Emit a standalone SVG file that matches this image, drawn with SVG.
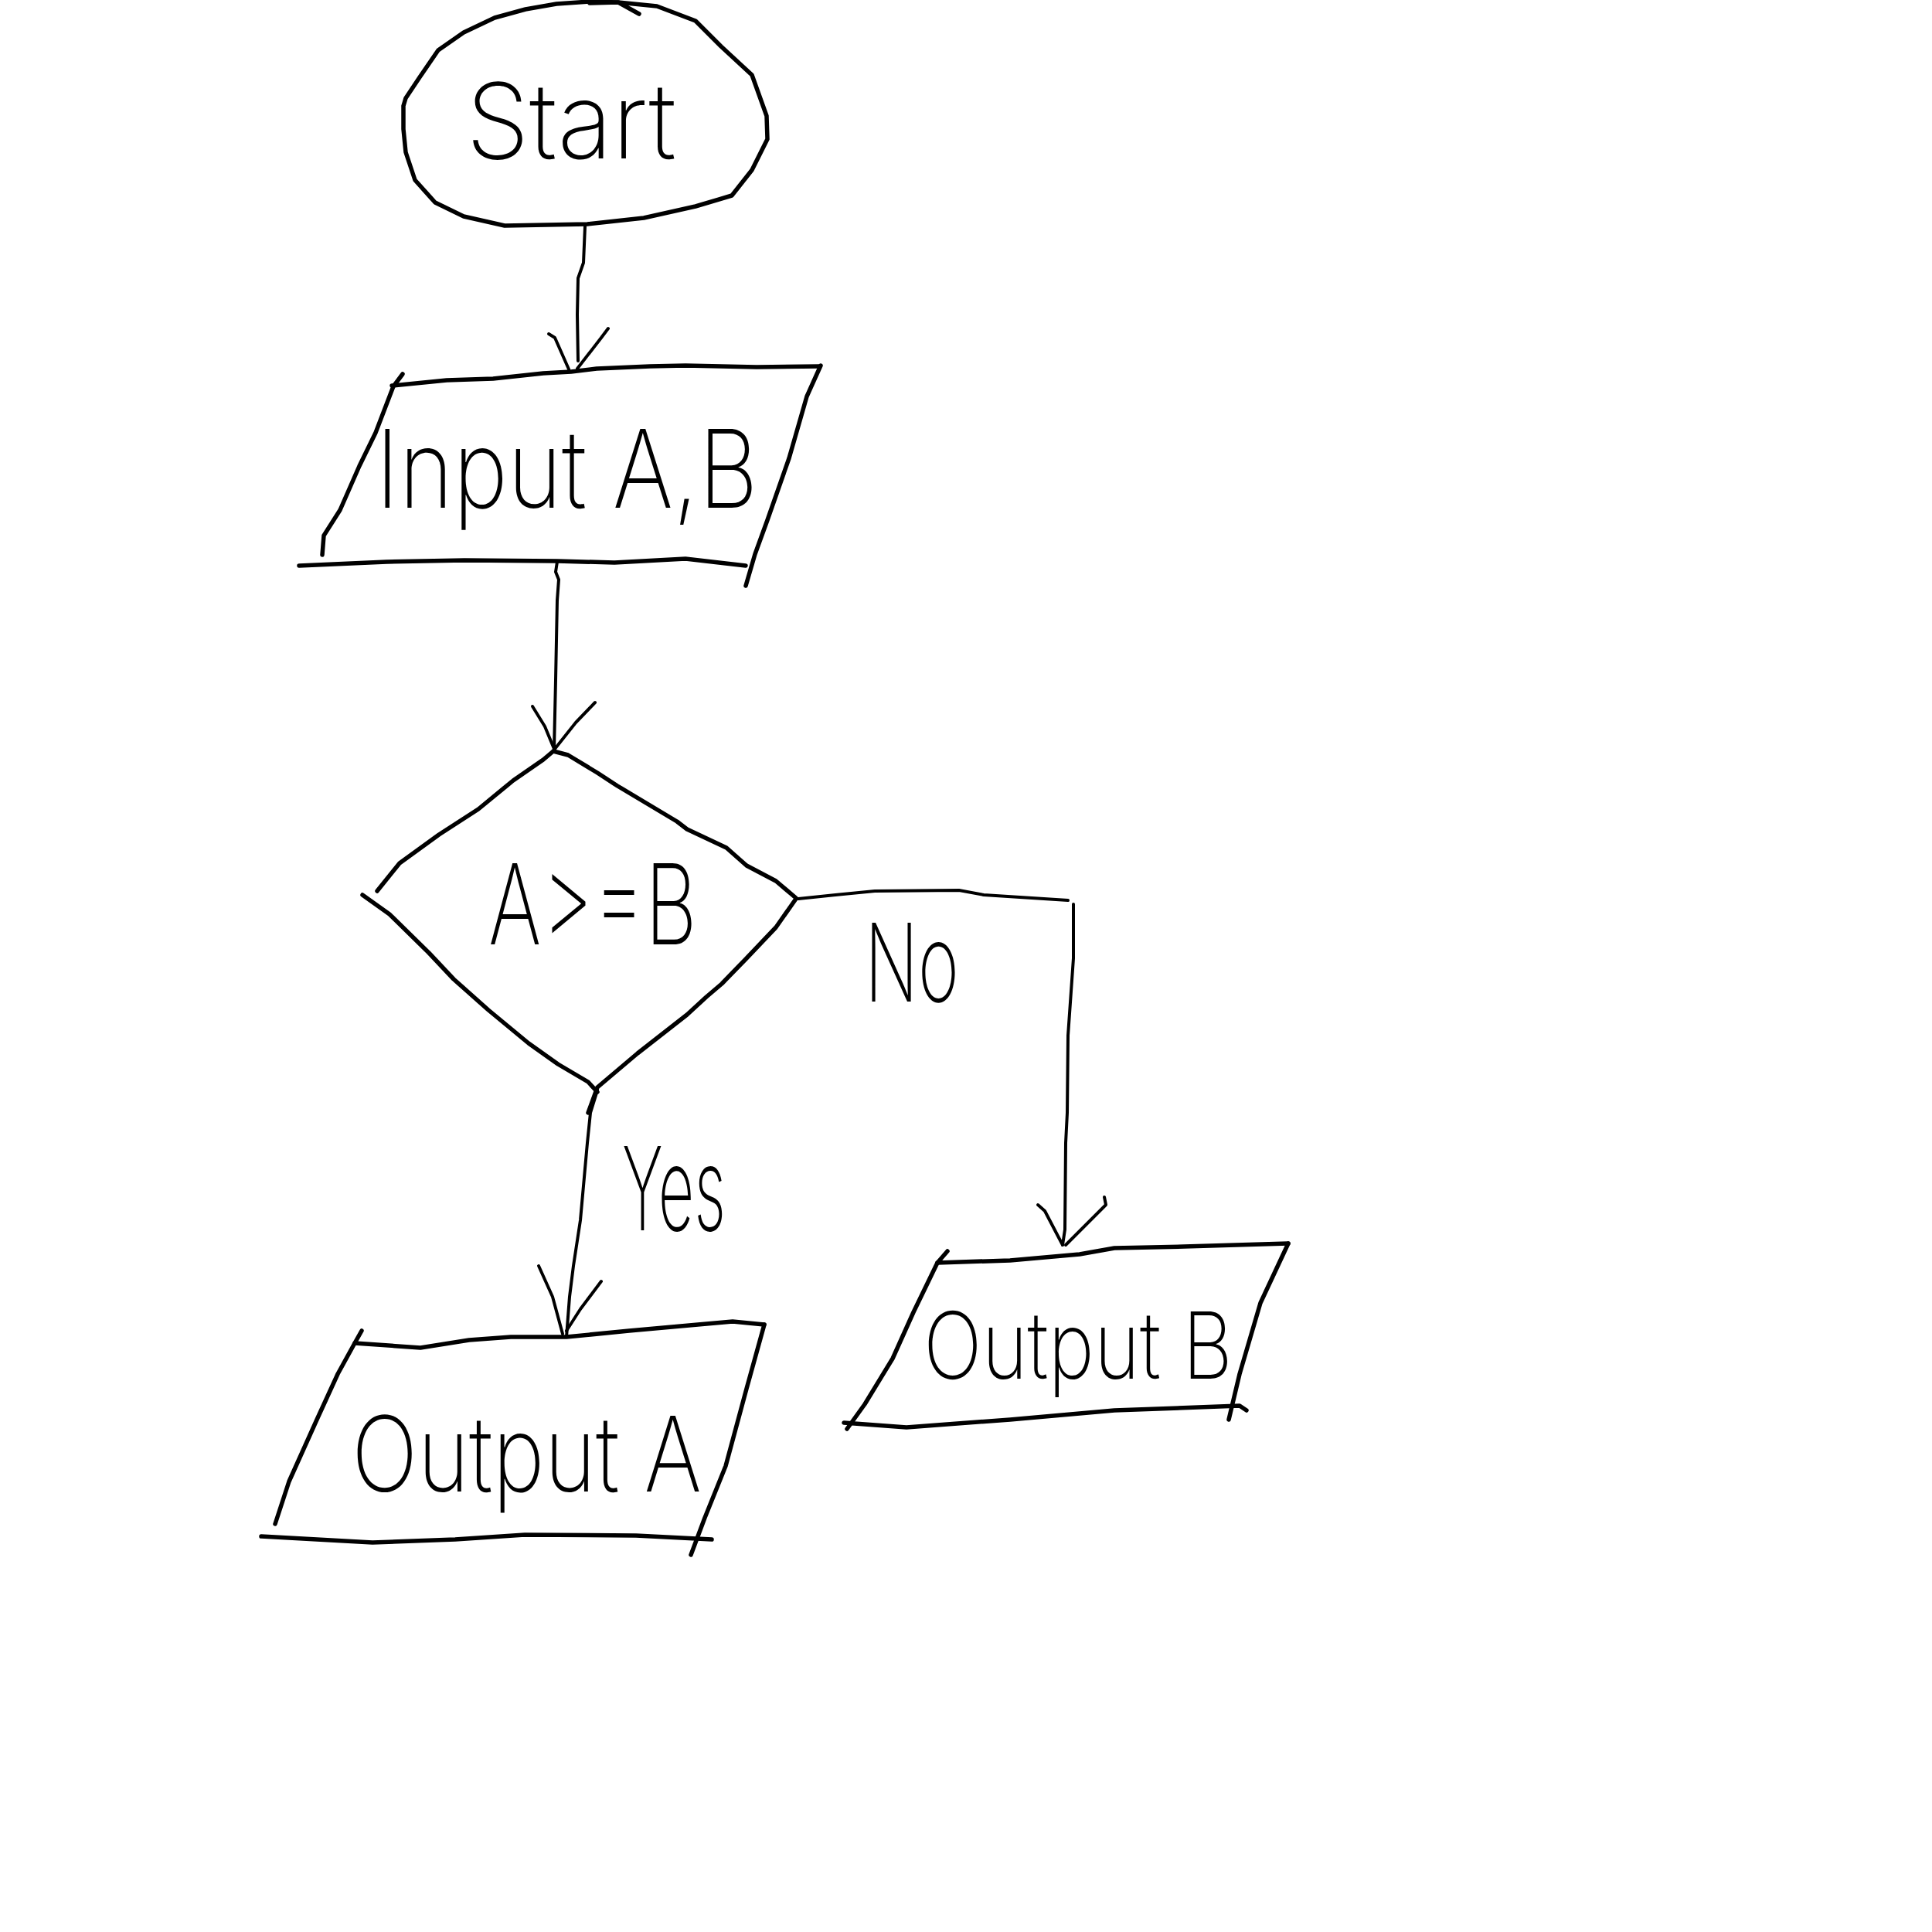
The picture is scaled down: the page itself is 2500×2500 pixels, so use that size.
<svg xmlns="http://www.w3.org/2000/svg" width="2500" height="2500" viewBox="0 0 2500 2500">
<style>
.shape{fill:none;stroke:#000;stroke-width:5.5;stroke-linejoin:round;stroke-linecap:round}
.conn{fill:none;stroke:#000;stroke-width:4;stroke-linejoin:round;stroke-linecap:round}
.lbl{font-family:Inter,Lato,"Liberation Sans",sans-serif;font-weight:200;fill:#000}
</style>
<rect width="2500" height="2500" fill="#fff"/>
<g id="start">
<polyline class="shape" points="522,137 525,127 543,100 567,65 600,42 640,23 680,12 720,5 763,2 800,3 850,8 900,27 933,60 973,97 992,150 993,180 973,220 947,253 900,267 833,282 760,290 653,292 600,280 563,262 537,233 525,197 522,167 522,137"/>
<polyline class="shape" points="763,4 800,3 827,18"/>
<text class="lbl" x="603" y="205" font-size="135" textLength="272" lengthAdjust="spacingAndGlyphs">Start</text>
</g>
<g id="input">
<polyline class="shape" points="507,499 578,492 638,490 703,483 739,481 772,477 841,474 887,473 979,475 1060,474"/>
<polyline class="shape" points="521,484 509,500 486,560 465,603 440,660 419,693 417,718"/>
<polyline class="shape" points="387,732 500,727 601,725 721,726 795,728 887,723 965,732"/>
<polyline class="shape" points="1062,473 1044,513 1021,593 993,673 977,717 965,758"/>
<text class="lbl" x="486" y="657" font-size="140" textLength="495" lengthAdjust="spacingAndGlyphs">Input A,B</text>
</g>
<g id="decision">
<polyline class="shape" points="716,972 735,977 773,1000 799,1017 876,1063 889,1073 940,1097 966,1120 1004,1140 1030,1162"/>
<polyline class="shape" points="1030,1163 1004,1200 966,1240 934,1273 914,1290 889,1313 825,1363 773,1407 761,1440"/>
<polyline class="shape" points="773,1413 761,1400 722,1377 684,1350 632,1307 587,1267 555,1233 504,1183 469,1158"/>
<polyline class="shape" points="488,1153 517,1117 568,1080 619,1047 664,1010 703,983 716,972"/>
<text class="lbl" x="632" y="1222" font-size="145" textLength="270" lengthAdjust="spacingAndGlyphs">A&gt;=B</text>
</g>
<g id="outputA">
<polyline class="shape" points="459,1738 544,1744 607,1734 661,1730 733,1730 814,1722 903,1714 948,1710 989,1714"/>
<polyline class="shape" points="468,1722 459,1738 437,1778 410,1837 374,1917 356,1972"/>
<polyline class="shape" points="338,1988 482,1996 589,1992 679,1986 823,1987 921,1992"/>
<polyline class="shape" points="989,1714 966,1797 939,1897 912,1964 894,2012"/>
<text class="lbl" x="455" y="1930" font-size="135" textLength="453" lengthAdjust="spacingAndGlyphs">Output A</text>
</g>
<g id="outputB">
<polyline class="shape" points="1213,1634 1307,1631 1397,1623 1442,1615 1532,1613 1667,1609"/>
<polyline class="shape" points="1226,1619 1213,1634 1182,1698 1155,1758 1119,1817 1096,1849"/>
<polyline class="shape" points="1092,1841 1173,1847 1307,1837 1442,1825 1604,1819 1613,1825"/>
<polyline class="shape" points="1667,1609 1631,1686 1604,1778 1590,1837"/>
<text class="lbl" x="1195" y="1784" font-size="120" textLength="400" lengthAdjust="spacingAndGlyphs">Output B</text>
</g>
<g id="connectors">
<polyline class="conn" points="757,293 755,340 748,360 747,407 748,467"/>
<polyline class="conn" points="710,432 718,437 737,480"/>
<polyline class="conn" points="787,425 778,437 747,477"/>
<polyline class="conn" points="721,727 719,740 723,750 721,777 719,880 717,969"/>
<polyline class="conn" points="689,914 705,940 717,969"/>
<polyline class="conn" points="770,909 745,935 718,969"/>
<polyline class="conn" points="773,1411 764,1440 760,1479 751,1579 742,1638 737,1678 733,1730"/>
<polyline class="conn" points="697,1638 715,1678 728,1726"/>
<polyline class="conn" points="778,1658 751,1694 733,1722"/>
<polyline class="conn" points="1033,1163 1081,1158 1132,1153 1241,1152 1273,1158 1382,1165"/>
<polyline class="conn" points="1389,1170 1389,1240 1382,1340 1381,1440 1379,1479 1378,1591 1375,1611"/>
<polyline class="conn" points="1343,1559 1352,1567 1375,1611"/>
<polyline class="conn" points="1429,1549 1431,1559 1379,1611"/>
<text class="lbl" x="1119" y="1296" font-size="140" textLength="122" lengthAdjust="spacingAndGlyphs">No</text>
<text class="lbl" x="805" y="1592" font-size="150" textLength="134" lengthAdjust="spacingAndGlyphs">Yes</text>
</g>
</svg>
